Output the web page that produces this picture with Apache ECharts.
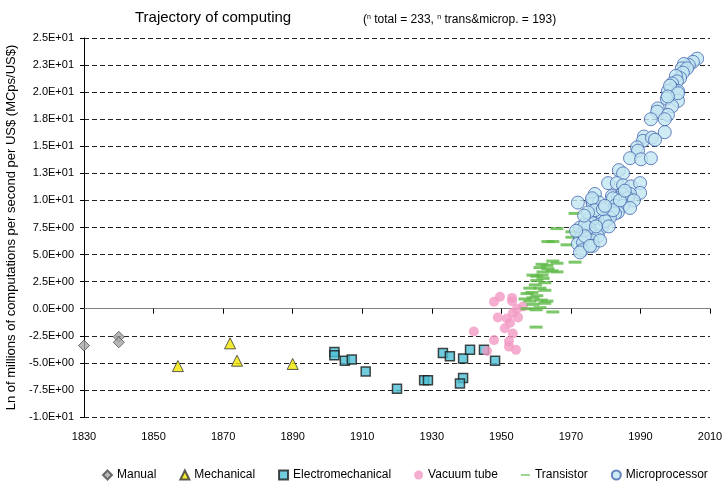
<!DOCTYPE html>
<html>
<head>
<meta charset="utf-8">
<title>Trajectory of computing</title>
<script src="https://cdn.jsdelivr.net/npm/echarts@6/dist/echarts.min.js"></script>
<style>
  html, body { margin: 0; padding: 0; background: #fff; }
  #chart { width: 723px; height: 484px; }
</style>
</head>
<body>
<div id="chart"></div>
<script>
// [year, ln(MCps/US$)]
var manual = [[1830, -3.4], [1840, -2.6], [1840, -3.1]]

var mechanical = [[1857, -5.3], [1872, -3.2], [1874, -4.8], [1890, -5.1]]

var electromechanical = [
  [1902, -4.0], [1902, -4.3], [1905, -4.8], [1907, -4.7], [1911, -5.8],
  [1920, -7.4], [1927.8, -6.6], [1928.9, -6.6], [1933.2, -4.1], [1935.2, -4.4],
  [1939, -4.6], [1941, -3.8], [1939, -6.4], [1938.1, -6.9], [1945, -3.8],
  [1948.2, -4.8]
]

var vacuumTube = [
  [1942.1, -2.1], [1947.9, 0.65], [1949.6, 1.1], [1953.1, 1.0], [1953.1, 0.7],
  [1949.0, -0.8], [1951.6, -0.9], [1953.3, -0.4], [1954.5, 0.0], [1954.8, -0.8],
  [1952.5, -1.3], [1951.0, -1.8], [1953.3, -2.3], [1947.9, -2.9], [1952.2, -3.0],
  [1952.2, -3.5], [1954.2, -3.8], [1945.9, -3.9], [1956.2, 0.2]
]

var transistor = [
  [1971.2, 8.8], [1966.0, 7.4], [1970.3, 7.1], [1970.3, 6.6], [1964.8, 6.2],
  [1963.4, 6.2], [1968.9, 5.9], [1971.2, 4.3], [1964.8, 4.4], [1966.0, 4.2],
  [1963.1, 4.0], [1961.1, 3.8], [1963.4, 3.7], [1966.0, 3.4], [1964.6, 3.5],
  [1959.1, 3.1], [1961.7, 3.1], [1960.2, 3.0], [1962.0, 2.8], [1960.2, 2.6],
  [1962.5, 2.4], [1961.1, 1.9], [1962.5, 1.7], [1958.8, 1.5], [1957.4, 1.4],
  [1960.2, 1.2], [1959.1, 1.0], [1963.1, 0.7], [1956.8, 0.9], [1958.2, 0.7],
  [1959.1, 0.4], [1961.1, 0.1], [1957.4, 0.0], [1960.0, -0.1], [1964.8, -0.3],
  [1962.5, 0.5], [1960.0, -1.7], [1958.2, 1.9], [1961.7, 4.1], [1962.0, 3.4],
  [1959.8, 2.2], [1961.5, 0.8]
]

var microprocessor = [
  [2006.3, 23.1], [2005.1, 22.8], [2003.9, 22.5], [2002.5, 22.6], [2001.9, 22.2],
  [2003.4, 22.2], [2002.2, 21.8], [2001.4, 21.3], [2000.2, 21.5], [2000.5, 21.0],
  [1999.1, 20.8], [1999.3, 20.3], [1997.9, 20.1], [2000.8, 20.1], [1998.5, 20.6],
  [1997.6, 19.4], [2000.8, 19.2], [1999.1, 18.7], [2000.8, 19.9], [1997.9, 19.6],
  [1995.0, 18.5], [1994.8, 18.2], [1997.9, 17.9], [1997.0, 17.5], [1993.0, 17.5],
  [1997.0, 16.3], [1991.0, 15.9], [1990.7, 15.5], [1993.3, 15.8], [1994.2, 15.6],
  [1989.0, 14.9], [1989.3, 14.6], [1987.0, 13.9], [1990.2, 13.8], [1993.0, 13.9],
  [1983.8, 12.8], [1985.0, 12.5], [1980.7, 11.6], [1983.2, 11.6], [1985.0, 11.4],
  [1987.3, 11.3], [1989.9, 11.6], [1989.9, 10.7], [1976.9, 10.6], [1987.0, 10.6],
  [1984.7, 10.6], [1981.8, 10.4], [1972.0, 9.8], [1976.1, 10.0], [1976.3, 9.7],
  [1978.1, 9.8], [1983.5, 10.2], [1982.1, 10.2], [1986.4, 10.2], [1988.1, 10.0],
  [1982.7, 9.5], [1985.0, 9.5], [1987.0, 9.3], [1983.5, 8.9], [1981.2, 8.9],
  [1982.7, 8.8], [1980.4, 8.6], [1978.9, 8.3], [1977.8, 8.7], [1975.5, 8.4],
  [1974.6, 8.1], [1976.3, 7.9], [1978.4, 7.8], [1972.6, 7.5], [1974.9, 7.5],
  [1977.5, 7.2], [1978.9, 7.5], [1973.2, 6.9], [1976.1, 6.9], [1977.8, 6.7],
  [1972.6, 6.5], [1974.6, 6.5], [1976.1, 6.3], [1972.0, 6.0], [1973.5, 6.1],
  [1976.3, 5.8], [1973.2, 5.4], [1972.6, 5.2], [1980.4, 8.2], [1981.2, 8.4],
  [1979.8, 8.1], [1982.1, 9.1], [1976.1, 10.2], [1974.0, 7.7], [1976.9, 9.1],
  [1979.2, 9.2], [1974.0, 6.7], [1975.5, 5.8], [1971.5, 7.2], [1984.1, 10.0],
  [1985.5, 10.9], [1979.8, 9.5], [1974.9, 8.9], [1978.4, 6.3], [1973.8, 8.6],
  [1977.2, 7.6], [1980.9, 7.6]
]

var yearRange = [1830, 2010]
var valueRange = [-10, 25]

var FONT = 'Liberation Sans, Arial, sans-serif'

// 2.5 -> 2.5E+00, 22.5 -> 2.3E+01 (excel style)
function sci (v) {
  var parts = v.toExponential(1).split('e')
  var e = parseInt(parts[1], 10)
  var sign = e < 0 ? '-' : '+'
  e = Math.abs(e)
  return parts[0] + 'E' + sign + (e < 10 ? '0' : '') + e
}

var dashIcon = 'path://M0,5h12v2h-12z M0,0h0.01v0.01h-0.01z M11.99,11.99h0.01v0.01h-0.01z'

var chart = echarts.init(document.getElementById('chart'))

var option = {
  backgroundColor: '#fff',
  animation: false,
  title: [{
    text: 'Trajectory of computing',
    left: 130,
    top: 5,
    textStyle: { fontFamily: FONT, fontSize: 15, fontWeight: 'normal', color: '#000' }
  }, {
    text: '({s|n} total = 233, {s|n} trans&microp. = 193)',
    left: 358,
    top: 9,
    textStyle: {
      fontFamily: FONT, fontSize: 12, fontWeight: 'normal', color: '#000',
      rich: {
        s: { fontFamily: FONT, fontSize: 7, verticalAlign: 'top', padding: [0, 0, 5, 0], color: '#000' }
      }
    }
  }],
  grid: { left: 84, right: 13, top: 38, bottom: 67, containLabel: false, outerBoundsMode: 'none' },
  legend: {
    top: 464,
    left: 97,
    itemWidth: 9,
    itemHeight: 9,
    itemGap: 23,
    textStyle: { fontFamily: FONT, fontSize: 12, color: '#000' },
    data: [
      { name: 'Manual', icon: 'diamond' },
      { name: 'Mechanical', icon: 'triangle' },
      { name: 'Electromechanical', icon: 'rect' },
      { name: 'Vacuum tube', icon: 'circle' },
      { name: 'Transistor', icon: dashIcon },
      { name: 'Microprocessor', icon: 'circle' }
    ]
  },
  xAxis: {
    type: 'value',
    min: yearRange[0],
    max: yearRange[1],
    interval: 20,
    axisLine: { show: true, lineStyle: { color: '#808080', width: 1 } },
    axisTick: { show: true, length: 5, lineStyle: { color: '#000' } },
    axisLabel: {
      fontFamily: FONT, fontSize: 11, color: '#000', margin: 14,
      formatter: function (v) { return String(v) }
    },
    splitLine: { show: false }
  },
  yAxis: {
    type: 'value',
    min: valueRange[0],
    max: valueRange[1],
    interval: 2.5,
    name: 'Ln of millions of computations per second per US$ (MCps/US$)',
    nameLocation: 'middle',
    nameGap: 65,
    nameTextStyle: { fontFamily: FONT, fontSize: 13, color: '#000' },
    axisLine: { show: true, lineStyle: { color: '#000', width: 1 } },
    axisTick: { show: true, length: 4, lineStyle: { color: '#000' } },
    axisLabel: { fontFamily: FONT, fontSize: 11, color: '#000', margin: 10, formatter: sci },
    splitLine: { show: true, lineStyle: { color: '#222', type: [5, 3], width: 1 } }
  },
  series: [{
    name: 'Manual',
    type: 'scatter',
    data: manual,
    symbol: 'diamond',
    symbolSize: 11,
    itemStyle: { color: '#a6a6a6', borderColor: '#4d4d4d', borderWidth: 1 }
  }, {
    name: 'Mechanical',
    type: 'scatter',
    data: mechanical,
    symbol: 'triangle',
    symbolSize: 11,
    itemStyle: { color: '#f2e600', borderColor: '#333', borderWidth: 1 }
  }, {
    name: 'Electromechanical',
    type: 'scatter',
    data: electromechanical,
    symbol: 'rect',
    symbolSize: 9,
    itemStyle: { color: '#4ec1d6', borderColor: '#1a1a1a', borderWidth: 1.5 }
  }, {
    name: 'Vacuum tube',
    type: 'scatter',
    data: vacuumTube,
    symbol: 'circle',
    symbolSize: 10,
    itemStyle: { color: '#f39ac3' }
  }, {
    name: 'Transistor',
    type: 'scatter',
    data: transistor,
    symbol: 'rect',
    symbolSize: [13, 3],
    itemStyle: { color: '#5cb946' }
  }, {
    name: 'Microprocessor',
    type: 'scatter',
    data: microprocessor,
    symbol: 'circle',
    symbolSize: 13,
    itemStyle: { color: '#c3e6f1', borderColor: '#4565b0', borderWidth: 1 }
  }]
}

chart.setOption(option)
</script>
</body>
</html>
